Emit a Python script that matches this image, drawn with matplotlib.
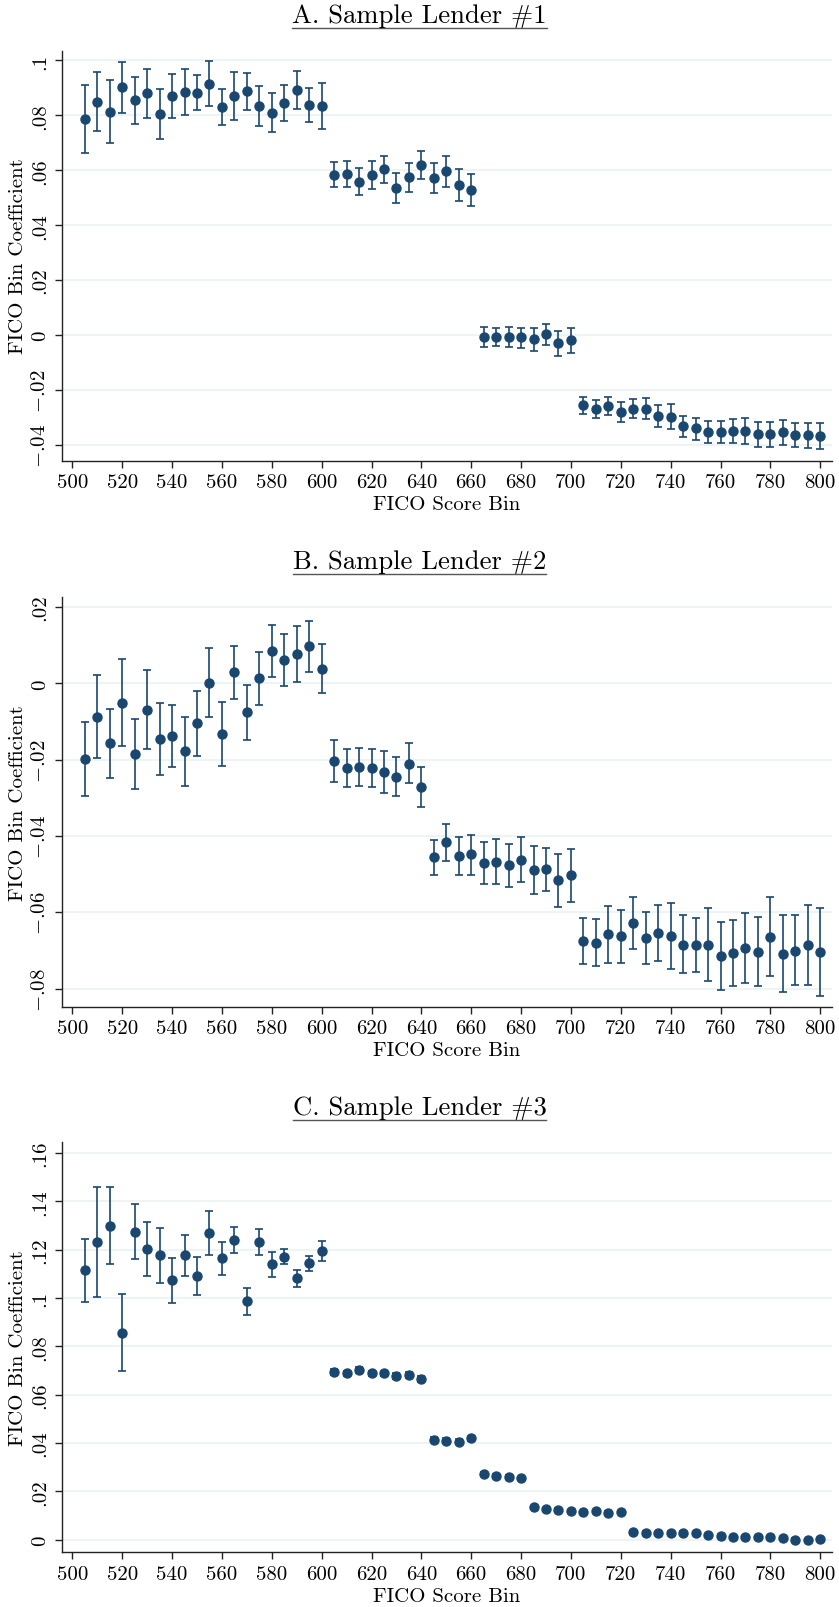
import numpy as np
import matplotlib
matplotlib.use("Agg")
import matplotlib.pyplot as plt
from matplotlib.lines import Line2D

plt.rcParams['font.family'] = ['cmr10', 'DejaVu Serif']
plt.rcParams['mathtext.fontset'] = 'cm'
plt.rcParams['axes.unicode_minus'] = False
plt.rcParams['axes.formatter.use_mathtext'] = True

# FICO score bins (5-point bins)
bins = np.arange(505, 805, 5)

# Lender 1: coefficient and 95% CI
a_coef = [0.0787, 0.0850, 0.0814, 0.0902, 0.0856, 0.0880, 0.0804, 0.0869, 0.0884, 0.0882,
          0.0916, 0.0832, 0.0869, 0.0888, 0.0835, 0.0810, 0.0846, 0.0893, 0.0839, 0.0834,
          0.0584, 0.0587, 0.0559, 0.0583, 0.0604, 0.0534, 0.0574, 0.0621, 0.0571, 0.0596, 0.0546, 0.0528,
          -0.0007, -0.0009, -0.0006, -0.0009, -0.0016, 0.0002, -0.0030, -0.0017,
          -0.0255, -0.0270, -0.0259, -0.0281, -0.0268, -0.0268, -0.0295, -0.0298, -0.0333, -0.0340,
          -0.0352, -0.0355, -0.0350, -0.0349, -0.0361, -0.0362, -0.0355, -0.0364, -0.0366, -0.0367]
a_hi = [0.0911, 0.0958, 0.0929, 0.0996, 0.0941, 0.0970, 0.0895, 0.0950, 0.0968, 0.0946,
        0.0999, 0.0897, 0.0958, 0.0956, 0.0908, 0.0882, 0.0912, 0.0963, 0.0901, 0.0917,
        0.0630, 0.0634, 0.0607, 0.0633, 0.0653, 0.0590, 0.0628, 0.0670, 0.0627, 0.0651, 0.0605, 0.0588,
        0.0028, 0.0024, 0.0029, 0.0027, 0.0024, 0.0041, 0.0015, 0.0027,
        -0.0225, -0.0238, -0.0226, -0.0245, -0.0234, -0.0231, -0.0257, -0.0253, -0.0295, -0.0301,
        -0.0312, -0.0315, -0.0305, -0.0301, -0.0317, -0.0318, -0.0310, -0.0320, -0.0322, -0.0320]
a_lo = [0.0663, 0.0744, 0.0699, 0.0809, 0.0769, 0.0789, 0.0714, 0.0791, 0.0801, 0.0820,
        0.0834, 0.0766, 0.0782, 0.0821, 0.0761, 0.0738, 0.0781, 0.0823, 0.0777, 0.0752,
        0.0539, 0.0538, 0.0511, 0.0532, 0.0555, 0.0481, 0.0521, 0.0568, 0.0516, 0.0540, 0.0487, 0.0470,
        -0.0043, -0.0040, -0.0043, -0.0046, -0.0057, -0.0038, -0.0077, -0.0064,
        -0.0287, -0.0302, -0.0292, -0.0317, -0.0304, -0.0308, -0.0334, -0.0342, -0.0370, -0.0381,
        -0.0393, -0.0395, -0.0395, -0.0398, -0.0407, -0.0408, -0.0400, -0.0410, -0.0413, -0.0416]

# Lender 2
b_coef = [-0.0198, -0.0087, -0.0157, -0.0051, -0.0185, -0.0069, -0.0146, -0.0138, -0.0177, -0.0105,
          0.0002, -0.0133, 0.0030, -0.0076, 0.0013, 0.0085, 0.0061, 0.0077, 0.0097, 0.0038,
          -0.0204, -0.0222, -0.0220, -0.0222, -0.0233, -0.0244, -0.0210, -0.0271,
          -0.0456, -0.0416, -0.0452, -0.0448, -0.0470, -0.0468, -0.0476, -0.0462, -0.0490, -0.0487, -0.0516, -0.0503,
          -0.0675, -0.0679, -0.0657, -0.0663, -0.0628, -0.0667, -0.0654, -0.0663, -0.0684, -0.0684,
          -0.0684, -0.0715, -0.0706, -0.0692, -0.0704, -0.0664, -0.0708, -0.0700, -0.0684, -0.0704]
b_hi = [-0.0101, 0.0022, -0.0067, 0.0063, -0.0093, 0.0034, -0.0051, -0.0056, -0.0087, -0.0021,
        0.0092, -0.0050, 0.0099, -0.0003, 0.0082, 0.0153, 0.0128, 0.0150, 0.0164, 0.0103,
        -0.0149, -0.0172, -0.0170, -0.0173, -0.0177, -0.0192, -0.0157, -0.0219,
        -0.0411, -0.0369, -0.0402, -0.0396, -0.0416, -0.0408, -0.0420, -0.0402, -0.0427, -0.0430, -0.0447, -0.0434,
        -0.0615, -0.0617, -0.0582, -0.0594, -0.0559, -0.0599, -0.0581, -0.0575, -0.0607, -0.0614,
        -0.0589, -0.0625, -0.0619, -0.0601, -0.0612, -0.0559, -0.0608, -0.0608, -0.0580, -0.0588]
b_lo = [-0.0294, -0.0195, -0.0247, -0.0164, -0.0278, -0.0173, -0.0240, -0.0219, -0.0268, -0.0191,
        -0.0087, -0.0217, -0.0041, -0.0148, -0.0057, 0.0017, -0.0006, 0.0003, 0.0031, -0.0025,
        -0.0258, -0.0272, -0.0270, -0.0271, -0.0288, -0.0295, -0.0262, -0.0323,
        -0.0503, -0.0464, -0.0503, -0.0503, -0.0525, -0.0525, -0.0533, -0.0520, -0.0552, -0.0544, -0.0585, -0.0573,
        -0.0735, -0.0741, -0.0733, -0.0733, -0.0696, -0.0735, -0.0726, -0.0749, -0.0759, -0.0756,
        -0.0780, -0.0804, -0.0793, -0.0784, -0.0794, -0.0767, -0.0808, -0.0791, -0.0789, -0.0819]

# Lender 3
c_coef = [0.1116, 0.1232, 0.1299, 0.0857, 0.1274, 0.1203, 0.1177, 0.1074, 0.1177, 0.1091,
          0.1268, 0.1164, 0.1240, 0.0986, 0.1232, 0.1139, 0.1170, 0.1081, 0.1143, 0.1196,
          0.0695, 0.0688, 0.0703, 0.0688, 0.0688, 0.0676, 0.0681, 0.0665,
          0.0414, 0.0410, 0.0406, 0.0419,
          0.0272, 0.0265, 0.0261, 0.0254,
          0.0135, 0.0127, 0.0124, 0.0117, 0.0113, 0.0119, 0.0112, 0.0113,
          0.0032, 0.0030, 0.0028, 0.0030, 0.0030, 0.0026, 0.0018, 0.0017, 0.0010, 0.0012,
          0.0012, 0.0010, 0.0007, 0.0001, 0.0000, 0.0003]
c_hi = [0.1246, 0.1458, 0.1459, 0.1018, 0.1388, 0.1316, 0.1291, 0.1166, 0.1261, 0.1171,
        0.1360, 0.1232, 0.1294, 0.1043, 0.1286, 0.1190, 0.1201, 0.1117, 0.1175, 0.1236,
        0.0707, 0.0700, 0.0715, 0.0700, 0.0700, 0.0688, 0.0693, 0.0677,
        0.0423, 0.0419, 0.0415, 0.0428,
        0.0279, 0.0272, 0.0268, 0.0261,
        0.0141, 0.0133, 0.0130, 0.0123, 0.0119, 0.0125, 0.0118, 0.0119,
        0.0037, 0.0035, 0.0033, 0.0035, 0.0035, 0.0031, 0.0023, 0.0022, 0.0015, 0.0017,
        0.0017, 0.0015, 0.0012, 0.0006, 0.0005, 0.0008]
c_lo = [0.0985, 0.1006, 0.1139, 0.0697, 0.1161, 0.1091, 0.1063, 0.0981, 0.1091, 0.1011,
        0.1177, 0.1095, 0.1188, 0.0930, 0.1177, 0.1087, 0.1139, 0.1046, 0.1112, 0.1153,
        0.0683, 0.0676, 0.0691, 0.0676, 0.0676, 0.0664, 0.0669, 0.0653,
        0.0405, 0.0401, 0.0397, 0.0410,
        0.0265, 0.0258, 0.0254, 0.0247,
        0.0129, 0.0121, 0.0118, 0.0111, 0.0107, 0.0113, 0.0106, 0.0107,
        0.0027, 0.0025, 0.0023, 0.0025, 0.0025, 0.0021, 0.0013, 0.0012, 0.0005, 0.0007,
        0.0007, 0.0005, 0.0002, -0.0004, -0.0005, -0.0002]

titles = ["A. Sample Lender #1", "B. Sample Lender #2", "C. Sample Lender #3"]
yticks = [[-0.04, -0.02, 0, 0.02, 0.04, 0.06, 0.08, 0.1],
          [-0.08, -0.06, -0.04, -0.02, 0, 0.02],
          [0, 0.02, 0.04, 0.06, 0.08, 0.1, 0.12, 0.14, 0.16]]
ylims = [(-0.0458, 0.1036), (-0.0847, 0.0227), (-0.0052, 0.1644)]
xticks = np.arange(500, 820, 20)

panels = [(a_coef, a_lo, a_hi), (b_coef, b_lo, b_hi), (c_coef, c_lo, c_hi)]
bottoms = [0.7129, 0.3733, 0.0340]

navy = '#1a476f'
grid_col = '#eaf2f3'


def stata_label(v):
    if v == 0:
        return '0'
    s = ('%.2f' % abs(v)).rstrip('0').lstrip('0')
    return ('$-$' + s) if v < 0 else s


fig = plt.figure(figsize=(8.39, 16.08), dpi=100)
title_texts = []

for i, (coef, lo, hi) in enumerate(panels):
    ax = fig.add_axes([0.0735, bottoms[i], 0.9178, 0.2550])
    coef = np.array(coef)
    err = [coef - np.array(lo), np.array(hi) - coef]
    ax.errorbar(bins, coef, yerr=err, fmt='none', ecolor=navy,
                elinewidth=1.2, capsize=3.0, capthick=1.2, zorder=2)
    ax.plot(bins, coef, 'o', color=navy, markersize=6.5, zorder=3)

    ax.set_xlim(495.7, 804.6)
    ax.set_ylim(*ylims[i])
    ax.set_xticks(xticks)
    ax.set_xticklabels([str(x) for x in xticks], fontsize=15)
    ax.set_yticks(yticks[i], labels=[stata_label(v) for v in yticks[i]],
                  fontsize=15, rotation=90, va='center')

    ax.yaxis.grid(True, color=grid_col, linewidth=1.2)
    ax.set_axisbelow(True)
    for side in ['top', 'right']:
        ax.spines[side].set_visible(False)
    for side in ['left', 'bottom']:
        ax.spines[side].set_linewidth(1.0)
        ax.spines[side].set_color('#222222')
    ax.tick_params(direction='out', length=5, width=1.0, color='#222222', pad=4)

    ax.set_xlabel('FICO Score Bin', fontsize=15, labelpad=3)
    ax.set_ylabel('FICO Bin Coefficient', fontsize=15, labelpad=3)

    top_px = (bottoms[i] + 0.2550) * 16.08 * 100
    t = fig.text(0.5, (top_px + 28.5) / 1608, titles[i], ha='center', va='baseline',
                 fontsize=19.2)
    title_texts.append(t)

# underline each panel title
fig.canvas.draw()
renderer = fig.canvas.get_renderer()
for t in title_texts:
    bb = t.get_window_extent(renderer).transformed(fig.transFigure.inverted())
    x0, x1 = bb.x0, bb.x1
    _, yb = t.get_position()
    yline = yb - 6.0 / 1608
    fig.add_artist(Line2D([x0, x1], [yline, yline], transform=fig.transFigure,
                          color='#555555', linewidth=1.0))

fig.savefig('out.png', dpi=100)
